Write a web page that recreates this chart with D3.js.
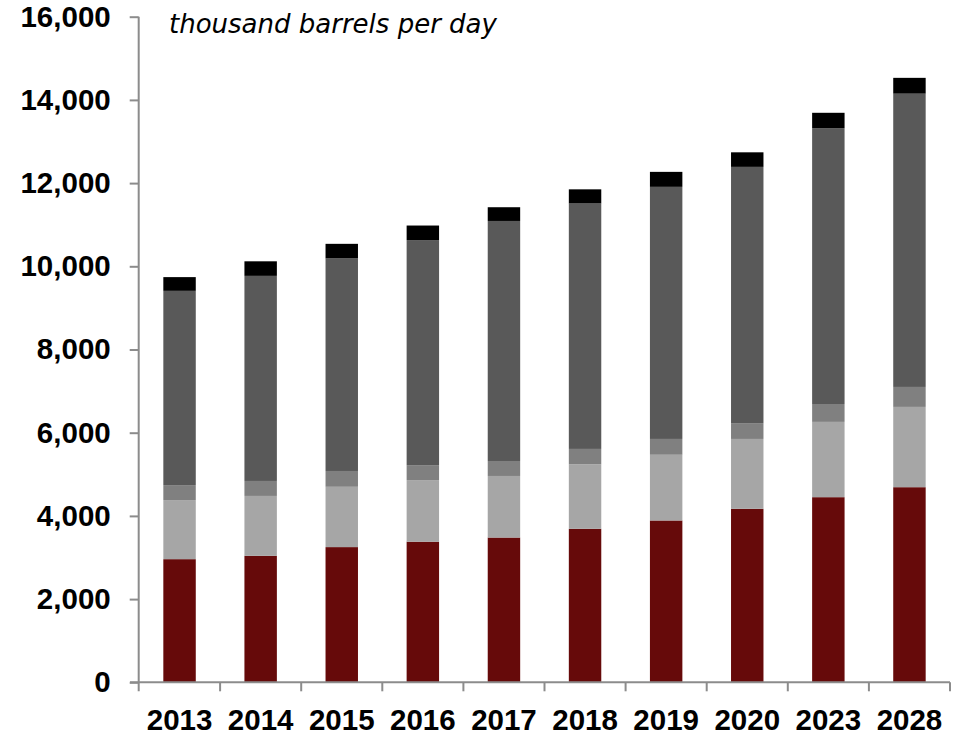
<!DOCTYPE html>
<html>
<head>
<meta charset="utf-8">
<script src="https://cdn.jsdelivr.net/npm/d3@7"></script>
<style>
  body { margin: 0; background: #fff; }
  svg { display: block; }
</style>
</head>
<body>
<div id="chart"></div>
<script>
const years = ["2013", "2014", "2015", "2016", "2017", "2018", "2019", "2020", "2023", "2028"];
const seriesNames = ["s1", "s2", "s3", "s4", "s5"];
// stacked bottom-up, thousand barrels per day
const s1 = [2960, 3040, 3250, 3380, 3480, 3690, 3890, 4170, 4450, 4690];
const s2 = [1420, 1440, 1450, 1480, 1480, 1550, 1580, 1680, 1810, 1930];
const s3 = [360, 360, 380, 360, 360, 370, 380, 380, 430, 480];
const s4 = [4670, 4930, 5110, 5410, 5770, 5900, 6060, 6160, 6630, 7050];
const s5 = [330, 350, 350, 350, 330, 340, 360, 350, 370, 380];
const yTicks = [0, 2000, 4000, 6000, 8000, 10000, 12000, 14000, 16000];
const colors = ["#660a0a", "#a6a6a6", "#808080", "#595959", "#000000"];

const width = 961, height = 735;
const axisColor = "#8c8c8c";

const svg = d3.select("#chart").append("svg")
  .attr("width", width)
  .attr("height", height);

const x = d3.scaleBand()
  .domain(years)
  .range([139, 950])
  .paddingInner(0.6)
  .paddingOuter(0.3);

const y = d3.scaleLinear()
  .domain([0, 16000])
  .range([682.3, 16.7]);

const table = years.map((yr, i) => ({
  year: yr, s1: s1[i], s2: s2[i], s3: s3[i], s4: s4[i], s5: s5[i]
}));
const stacked = d3.stack().keys(seriesNames)(table);

svg.append("g")
  .selectAll("g")
  .data(stacked)
  .join("g")
  .attr("fill", (d, i) => colors[i])
  .selectAll("rect")
  .data(d => d)
  .join("rect")
  .attr("x", d => x(d.data.year))
  .attr("width", x.bandwidth())
  .attr("y", d => y(d[1]))
  .attr("height", d => y(d[0]) - y(d[1]));

// y axis
const yAxis = svg.append("g")
  .attr("transform", "translate(138.7,0)")
  .call(d3.axisLeft(y).tickValues(yTicks).tickSize(9).tickPadding(19)
    .tickFormat(d3.format(",")));
yAxis.select(".domain").attr("stroke", axisColor).attr("stroke-width", 2)
  .attr("d", `M0,${y(16000)}V${y(0) + 9}`);
yAxis.selectAll(".tick line").attr("stroke", axisColor).attr("stroke-width", 2);
yAxis.selectAll(".tick text")
  .attr("fill", "#000")
  .attr("font-family", "'Liberation Sans', Arial, sans-serif")
  .attr("font-weight", "bold")
  .attr("font-size", "29.5px");

// x axis with ticks at category boundaries
const step = x.step();
const boundaries = d3.range(years.length + 1).map(i => x.range()[0] + i * step);
const xAxis = svg.append("g");
xAxis.append("line")
  .attr("x1", 130).attr("x2", 950)
  .attr("y1", y(0)).attr("y2", y(0))
  .attr("stroke", axisColor).attr("stroke-width", 2);
xAxis.selectAll(".bt")
  .data(boundaries.slice(1))
  .join("line")
  .attr("class", "bt")
  .attr("x1", d => d).attr("x2", d => d)
  .attr("y1", y(0)).attr("y2", y(0) + 9)
  .attr("stroke", axisColor).attr("stroke-width", 2);
xAxis.selectAll("text")
  .data(years)
  .join("text")
  .attr("x", d => x(d) + x.bandwidth() / 2)
  .attr("y", 730)
  .attr("text-anchor", "middle")
  .attr("font-family", "'Liberation Sans', Arial, sans-serif")
  .attr("font-weight", "bold")
  .attr("font-size", "29.5px")
  .text(d => d);

// unit label
svg.append("text")
  .attr("x", 169)
  .attr("y", 33)
  .attr("font-family", "'DejaVu Sans', Verdana, sans-serif")
  .attr("font-style", "italic")
  .attr("font-size", "26px")
  .attr("fill", "#000")
  .text("thousand barrels per day");
</script>
</body>
</html>
